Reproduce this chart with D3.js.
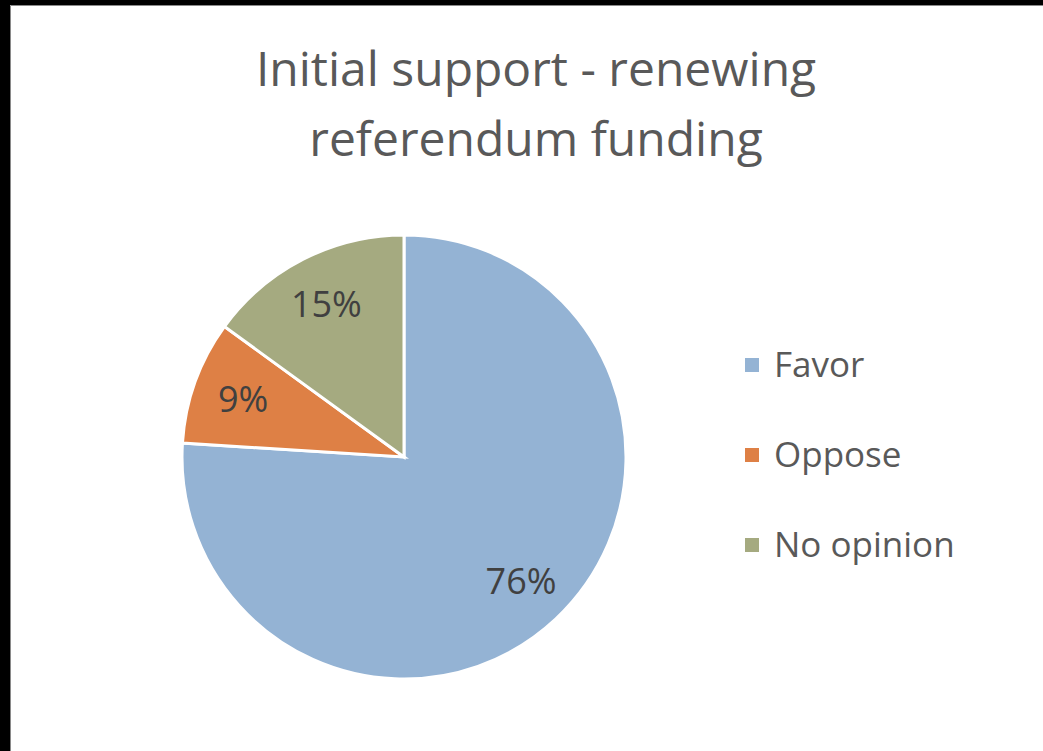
<!DOCTYPE html>
<html><head><meta charset="utf-8">
<script src="https://cdn.jsdelivr.net/npm/d3@7"></script>
<style>html,body{margin:0;padding:0;background:#fff;}svg{display:block;}</style>
</head><body>
<svg id="chart" width="1043" height="751"></svg>
<script>
const titleLines = ["Initial support - renewing", "referendum funding"];
const categories = ["Favor", "Oppose", "No opinion"];
const values = [76, 9, 15];
const colors = ["#94B3D4", "#DE8045", "#A5AA80"];

const svg = d3.select("#chart");
const W = 1043, H = 751;
// frame (black border at top/left like the screenshot)
svg.append("rect").attr("x",0).attr("y",0).attr("width",W).attr("height",H).attr("fill","#000");
svg.append("rect").attr("x",10).attr("y",5).attr("width",W).attr("height",H).attr("fill","#fff");
svg.append("path").attr("d",`M10.5,${H} V5.5 H${W}`).attr("fill","none").attr("stroke","#8a8a8a").attr("stroke-width",1);

const font = "'Open Sans', 'Noto Sans', sans-serif";
svg.append("g").selectAll("text").data(titleLines).join("text")
  .attr("x", 536).attr("y", (d,i)=> 86 + i*70)
  .attr("text-anchor","middle")
  .attr("font-family", font).attr("font-size", 48)
  .attr("fill","#595959")
  .text(d=>d);

const cx = 404, cy = 457, r = 222;
const data = categories.map((c,i)=>({cat:c, val:values[i], color:colors[i]}));
const pie = d3.pie().value(d=>d.val).sort(null);
const arcs = pie(data);
const arc = d3.arc().innerRadius(0).outerRadius(r);
const labelArc = d3.arc().innerRadius(r*0.77).outerRadius(r*0.77);

const g = svg.append("g").attr("transform", `translate(${cx},${cy})`);
g.selectAll("path").data(arcs).join("path")
  .attr("d", arc).attr("fill", d=>d.data.color)
  .attr("stroke","#fff").attr("stroke-width",3).attr("stroke-linejoin","miter");

const total = d3.sum(values);
g.selectAll("text").data(arcs).join("text")
  .attr("transform", d=>`translate(${labelArc.centroid(d)})`)
  .attr("text-anchor","middle").attr("dy","0.35em")
  .attr("font-family", font).attr("font-size", 36)
  .attr("fill","#404040")
  .text(d=> Math.round(d.data.val/total*100) + "%");

const leg = svg.append("g").selectAll("g").data(data).join("g")
  .attr("transform",(d,i)=>`translate(745, ${365 + i*90})`);
leg.append("rect").attr("x",0).attr("y",-7).attr("width",14).attr("height",14).attr("fill",d=>d.color);
leg.append("text").attr("x",29).attr("y",0).attr("dy","0.35em")
  .attr("font-family", font).attr("font-size", 35).attr("fill","#595959")
  .text(d=>d.cat);
</script>
</body></html>
